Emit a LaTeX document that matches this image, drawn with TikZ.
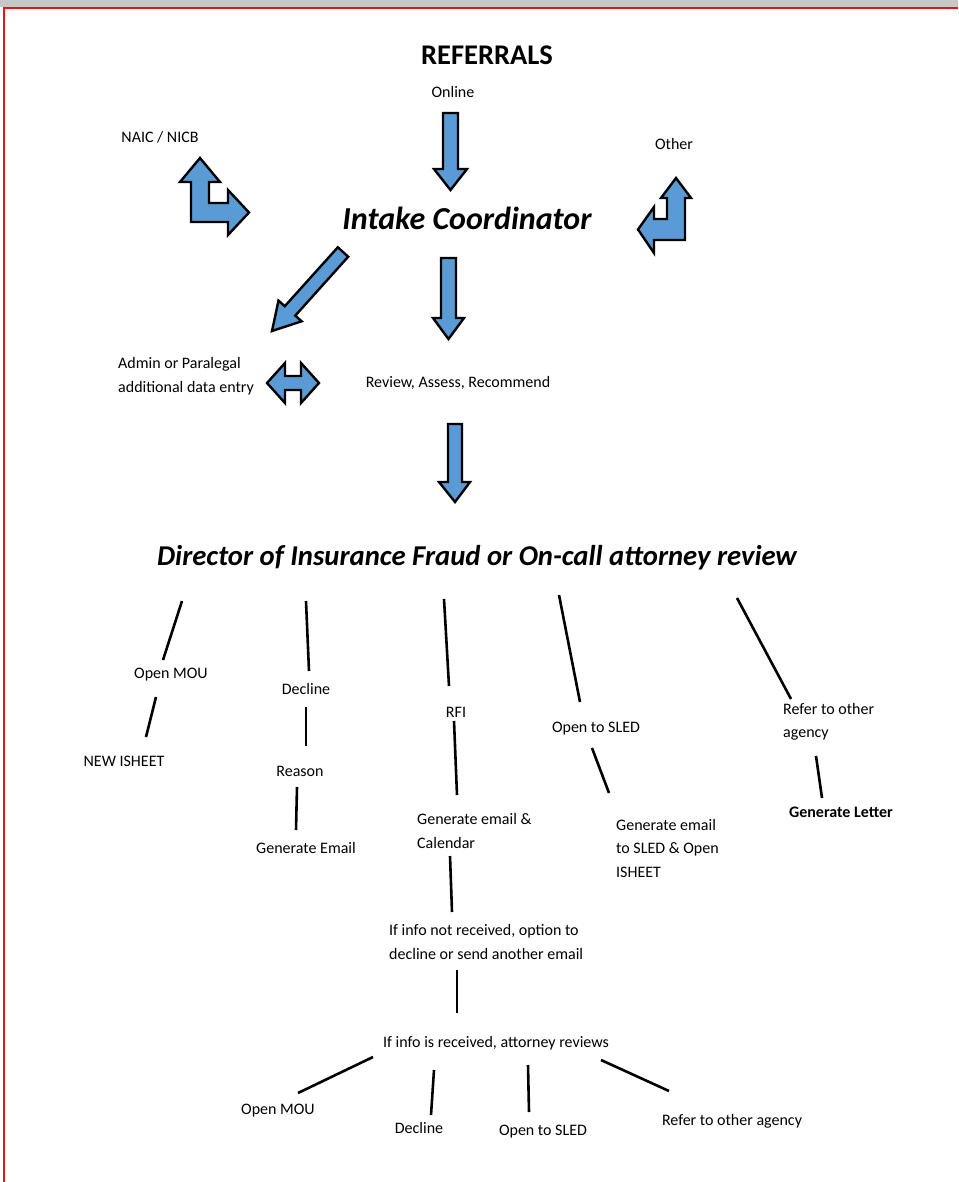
\documentclass[tikz,border=0pt]{standalone}
\usepackage{fontspec}
\setmainfont{Carlito}
\definecolor{arrowblue}{RGB}{91,155,213}
\definecolor{edgered}{RGB}{230,20,20}
\definecolor{topgrey}{RGB}{200,200,200}
\begin{document}
\begin{tikzpicture}[x=1pt,y=-1pt,
  lbl/.style={font=\fontsize{16}{23.5}\selectfont, inner sep=0pt},
  lblL/.style={lbl, align=left, anchor=west},
  lblB/.style={lbl, font=\fontsize{16}{23.5}\selectfont\bfseries},
  conn/.style={line width=2.6pt},
  blockarrow/.style={fill=arrowblue, draw=black, line width=2.4pt, line join=miter}]
\useasboundingbox (0,0) rectangle (958,1182);
% page frame
\fill[topgrey] (0,0) rectangle (958,7);
\draw[edgered, line width=2pt] (3.5,1182) -- (3.5,8.5) -- (958,8.5);

% titles
\node[inner sep=0pt, font=\fontsize{28.5}{32}\selectfont\bfseries] (ref) at (487,55) {REFERRALS};
\node[lbl] (online) at (453,92) {Online};
\node[lbl] (naic) at (160,137) {NAIC / NICB};
\node[lbl] (other) at (674,144) {Other};
\node[inner sep=0pt, font=\fontsize{32}{36}\selectfont\bfseries\itshape] (intake) at (467,218) {Intake Coordinator};
\node[lblL] (admin) at (118,376) {Admin or Paralegal\\additional data entry};
\node[lbl] (review) at (458,383) {Review, Assess, Recommend};
\node[inner sep=0pt, font=\fontsize{28.7}{32}\selectfont\bfseries\itshape] (director) at (477,558) {Director of Insurance Fraud or On-call attorney review};

% block arrows
\draw[blockarrow] (443,113) -- (458,113) -- (458,169) -- (467,169) -- (450.5,190) -- (434,169) -- (443,169) -- cycle;
\draw[blockarrow] (441,258) -- (456,258) -- (456,318) -- (464,318) -- (448.5,339) -- (433,318) -- (441,318) -- cycle;
\draw[blockarrow] (448,424) -- (462,424) -- (462,482) -- (470,482) -- (455,502) -- (439,482) -- (448,482) -- cycle;
\draw[blockarrow] (348.2,256.7) -- (295.3,315.6) -- (301.6,321.3) -- (272,331) -- (278.5,300.6) -- (284.8,306.2) -- (337.8,247.3) -- cycle;
\draw[blockarrow] (267,383) -- (285,363) -- (285,376) -- (301,376) -- (301,363) -- (319,383) -- (301,403) -- (301,390) -- (285,390) -- (285,403) -- cycle;
\draw[blockarrow] (200,158) -- (220,182) -- (209,182) -- (209,203) -- (228,203) -- (228,190) -- (249,212.5) -- (228,235) -- (228,222) -- (191,222) -- (191,182) -- (180,182) -- cycle;
\draw[blockarrow] (676,178) -- (691,198) -- (685,198) -- (685,240) -- (654,240) -- (654,253) -- (638,229.5) -- (654,207) -- (654,219) -- (667,219) -- (667,198) -- (661,198) -- cycle;

% lower texts
\node[lbl] (mou1) at (171,675) {Open MOU};
\node[lbl] (isheet) at (124,761) {NEW ISHEET};
\node[lbl] (decl1) at (306,689) {Decline};
\node[lbl] (reason) at (300,771) {Reason};
\node[lbl] (genmail) at (306,848) {Generate Email};
\node[lbl] (rfi) at (456,712) {RFI};
\node[lblL] (gencal) at (417,831) {Generate email \&\\Calendar};
\node[lbl] (sled1) at (596,729) {Open to SLED};
\node[lblL] (gensled) at (616,848) {Generate email\\to SLED \& Open\\ISHEET};
\node[lblL] (refer1) at (783,722) {Refer to other\\agency};
\node[lblB] (letter) at (841,812) {Generate Letter};
\node[lblL] (notrec) at (389,942) {If info not received, option to\\decline or send another email};
\node[lbl] (rec) at (496,1043) {If info is received, attorney reviews};
\node[lbl] (mou2) at (278,1111) {Open MOU};
\node[lbl] (decl2) at (419,1128) {Decline};
\node[lbl] (sled2) at (543,1132) {Open to SLED};
\node[lbl] (refer2) at (732,1121) {Refer to other agency};

% connector end points
\coordinate (a1) at (182,601); \coordinate (a2) at (163,660);
\coordinate (a3) at (156,697); \coordinate (a4) at (146,737);
\coordinate (b1) at (306,601); \coordinate (b2) at (309,671);
\coordinate (b3) at (306,707); \coordinate (b4) at (306,746);
\coordinate (b5) at (297,787); \coordinate (b6) at (296,830);
\coordinate (c1) at (444,599); \coordinate (c2) at (449,686);
\coordinate (c3) at (454,721); \coordinate (c4) at (457,795);
\coordinate (c5) at (450,856); \coordinate (c6) at (452,912);
\coordinate (c7) at (457,970); \coordinate (c8) at (457,1013);
\coordinate (d1) at (559,595); \coordinate (d2) at (580,702);
\coordinate (d3) at (592,748); \coordinate (d4) at (609,793);
\coordinate (e1) at (737,598); \coordinate (e2) at (791,699);
\coordinate (e3) at (816,756); \coordinate (e4) at (822,798);
\coordinate (f1) at (373,1057); \coordinate (f2) at (298,1093);
\coordinate (f3) at (434,1070); \coordinate (f4) at (431,1115);
\coordinate (f5) at (528,1065); \coordinate (f6) at (529,1112);
\coordinate (f7) at (601,1060); \coordinate (f8) at (669,1091);

\draw[conn] (a1) -- (a2);
\draw[conn] (a3) -- (a4);
\draw[conn] (b1) -- (b2);
\draw[conn] (b3) -- (b4);
\draw[conn] (b5) -- (b6);
\draw[conn] (c1) -- (c2);
\draw[conn] (c3) -- (c4);
\draw[conn] (c5) -- (c6);
\draw[conn] (c7) -- (c8);
\draw[conn] (d1) -- (d2);
\draw[conn] (d3) -- (d4);
\draw[conn] (e1) -- (e2);
\draw[conn] (e3) -- (e4);
\draw[conn] (f1) -- (f2);
\draw[conn] (f3) -- (f4);
\draw[conn] (f5) -- (f6);
\draw[conn] (f7) -- (f8);
\end{tikzpicture}
\end{document}
